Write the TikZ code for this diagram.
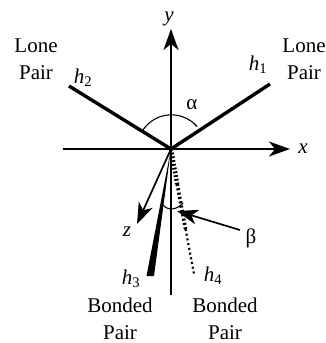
\documentclass[tikz,border=0pt]{standalone}
\usepackage{fontspec}
\setmainfont{Liberation Serif}
\usetikzlibrary{arrows.meta}
\newcommand{\hyb}[1]{\textit{h}\textsubscript{#1}}
\tikzset{
    axis/.style={line width=1.7pt},
    bigtip/.style={-{Stealth[length=21pt,width=15pt,inset=6pt]}},
    bond/.style={line width=3.4pt},
    lbl/.style={inner sep=0pt, align=center},
}
\begin{document}
\begin{tikzpicture}[x=1pt, y=1pt, font=\fontsize{21}{27}\selectfont, line join=round]
    \useasboundingbox (-171,-194) rectangle (155,149);
    \path
    (0,0) coordinate (O)
    (-108,0) coordinate (W)
    (119,0) coordinate (E)
    (0,120) coordinate (N)
    (0,-146) coordinate (S)
    (99,65) coordinate (H1)
    (-102,63) coordinate (H2)
    (-34,-75) coordinate (Z)
    (-24.5,-127) coordinate (H3a)
    (-17,-127) coordinate (H3b)
    (23,-125) coordinate (H4)
    (6.2,-35) coordinate (H4a)
    (14.5,-80) coordinate (H4b)
    (69,-81) coordinate (T)
    (6,-62) coordinate (B)
    ;
    \draw[axis] (W)--(O);
    \draw[axis, bigtip] (O)--(E);
    \draw[axis, bigtip] (O)--(N);
    \draw[axis] (O)--(S);
    \draw[bond] (O)--(H1);
    \draw[bond] (O)--(H2);
    \draw[axis, bigtip] (O)--(Z);
    \fill (O)--(H3b)--(H3a)--cycle;
    % dotted bond gets thinner towards its end
    \draw[line width=4.4pt, dash pattern=on 1.8pt off 2pt] (O)--(H4a);
    \draw[line width=3.6pt, dash pattern=on 2pt off 2.4pt] (H4a)--(H4b);
    \draw[line width=2.2pt, dash pattern=on 2pt off 2.8pt] (H4b)--(H4);
    \draw[line width=1.1pt] (26,22.5) arc (41:146:34);
    \draw[line width=1.1pt] (-8,-56) .. controls (-3,-62) and (6,-61) .. (12,-54);
    \draw[axis, bigtip] (T)--(B);

    \node[lbl] (ny) at (-2,130) {\textit{y}};
    \node[lbl] (nx) at (132,0) {\textit{x}};
    \node[lbl] (nz) at (-44,-83) {\textit{z}};
    \node[lbl] (n1) at (87,84) {\hyb{1}};
    \node[lbl] (n2) at (-88,71) {\hyb{2}};
    \node[lbl] (n3) at (-40,-130) {\hyb{3}};
    \node[lbl] (n4) at (42,-127) {\hyb{4}};
    \node[lbl] (a) at (21,44) {α};
    \node[lbl] (b) at (80,-89) {β};
    \node[lbl] (lpl) at (-135,90) {Lone\\Pair};
    \node[lbl] (lpr) at (133,90) {Lone\\Pair};
    \node[lbl] (bpl) at (-51,-170) {Bonded\\Pair};
    \node[lbl] (bpr) at (54,-170) {Bonded\\Pair};
\end{tikzpicture}
\end{document}
